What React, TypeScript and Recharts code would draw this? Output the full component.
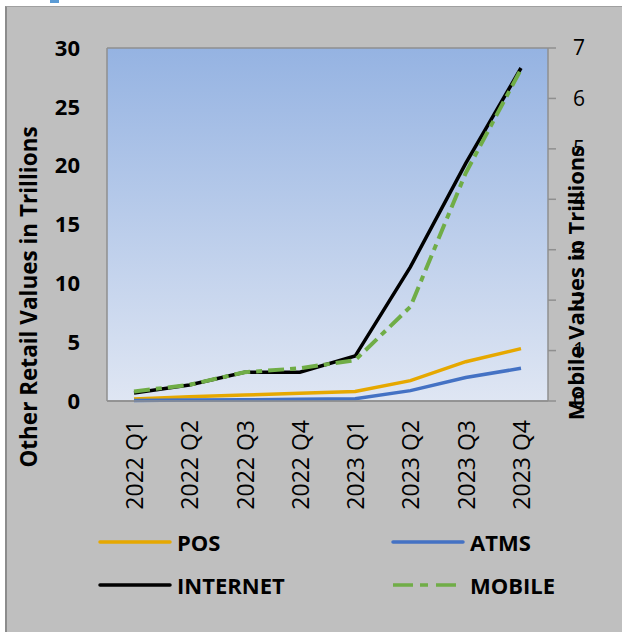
import React from 'react';
import {
  LineChart,
  Line,
  XAxis,
  YAxis,
  CartesianGrid,
  Legend,
  Label,
} from 'recharts';

const quarters = ['2022 Q1', '2022 Q2', '2022 Q3', '2022 Q4', '2023 Q1', '2023 Q2', '2023 Q3', '2023 Q4'];
const pos = [0.17, 0.37, 0.5, 0.65, 0.8, 1.73, 3.34, 4.45];
const atms = [0.05, 0.08, 0.1, 0.15, 0.2, 0.88, 2.0, 2.78];
const internet = [0.68, 1.36, 2.44, 2.44, 3.82, 11.4, 20.2, 28.3];
const mobile = [0.19, 0.32, 0.57, 0.65, 0.81, 1.87, 4.52, 6.58];

const leftTicks = [0, 5, 10, 15, 20, 25, 30];
const rightTicks = [0, 1, 2, 3, 4, 5, 6, 7];

const data = quarters.map((q, i) => ({
  quarter: q,
  POS: pos[i],
  ATMS: atms[i],
  INTERNET: internet[i],
  MOBILE: mobile[i],
}));

const FONT = '"Open Sans", sans-serif';
const GRID = '#8f8f8f';
const MOBILE_DASH = '16 6 6 6';

const legendItems = [
  { name: 'POS', color: '#e6a800', dash: undefined, x: 100, y: 20 },
  { name: 'ATMS', color: '#4472c4', dash: undefined, x: 393, y: 20 },
  { name: 'INTERNET', color: '#000000', dash: undefined, x: 100, y: 63 },
  { name: 'MOBILE', color: '#70ad47', dash: '20 7 8 8', x: 393, y: 63 },
];

const XTick = (props: any) => {
  const { x, y, payload } = props;
  return (
    <text
      x={x}
      y={y}
      transform={`rotate(-90, ${x}, ${y})`}
      textAnchor="end"
      dominantBaseline="central"
      fontFamily={FONT}
      fontSize={23}
      fill="#000"
    >
      {payload.value}
    </text>
  );
};

const LeftTitle = () => (
  <text
    x={28}
    y={297}
    transform="rotate(-90, 28, 297)"
    textAnchor="middle"
    dominantBaseline="central"
    fontFamily={FONT}
    fontWeight="bold"
    fontSize={22.5}
    fill="#000"
  >
    Other Retail Values in Trillions
  </text>
);

const RightTitle = () => (
  <text
    x={575}
    y={283}
    transform="rotate(-90, 575, 283)"
    textAnchor="middle"
    dominantBaseline="central"
    fontFamily={FONT}
    fontWeight="bold"
    fontSize={22}
    fill="#000"
  >
    Mobile Values in Trillions
  </text>
);

const LegendContent = () => (
  <svg width={622} height={110} style={{ display: 'block' }}>
    {legendItems.map((it) => (
      <g key={it.name}>
        <line
          x1={it.x}
          x2={it.x + 70}
          y1={it.y}
          y2={it.y}
          stroke={it.color}
          strokeWidth={3.5}
          strokeDasharray={it.dash}
          strokeLinecap={it.dash ? 'butt' : 'round'}
        />
        <text
          x={it.x + 77}
          y={it.y}
          dominantBaseline="central"
          fontFamily={FONT}
          fontWeight="bold"
          fontSize={22}
          fill="#000"
        >
          {it.name}
        </text>
      </g>
    ))}
  </svg>
);

export default function App() {
  return (
    <div style={{ position: 'absolute', left: 0, top: 0, width: 622, height: 632, background: '#fff', overflow: 'hidden' }}>
      <div style={{ position: 'absolute', left: 50, top: 0, width: 9, height: 3, background: '#5b9bd5' }} />
      <div
        style={{
          position: 'absolute',
          left: 5,
          top: 6,
          width: 640,
          height: 640,
          background: '#bfbfbf',
          borderLeft: '2px solid #8c8c8c',
          borderTop: '1px solid #a0a0a0',
        }}
      />
      <div style={{ position: 'absolute', left: 0, top: 0 }}>
        <LineChart width={622} height={632} data={data} margin={{ top: 48, right: 14, left: 47, bottom: 0 }}>
          <defs>
            <linearGradient id="plotBg" x1="0" y1="0" x2="0" y2="1">
              <stop offset="0%" stopColor="#95b3e2" />
              <stop offset="100%" stopColor="#dfe6f3" />
            </linearGradient>
          </defs>
          <CartesianGrid vertical={false} stroke={GRID} strokeWidth={1.5} fill="url(#plotBg)" fillOpacity={1} />
          <XAxis
            dataKey="quarter"
            height={121}
            interval={0}
            padding={{ left: 27, right: 27 }}
            tickLine={false}
            tickSize={0}
            tickMargin={19}
            axisLine={{ stroke: GRID, strokeWidth: 1.5 }}
            tick={<XTick />}
          />
          <YAxis
            yAxisId="left"
            domain={[0, 30]}
            ticks={leftTicks}
            width={60}
            tickLine={false}
            tickSize={0}
            tickMargin={27}
            axisLine={{ stroke: GRID, strokeWidth: 1.5 }}
            tick={{ fontFamily: FONT, fontSize: 22, fontWeight: 'bold', fill: '#000' }}
          >
            <Label content={<LeftTitle />} />
          </YAxis>
          <YAxis
            yAxisId="right"
            orientation="right"
            domain={[0, 7]}
            ticks={rightTicks}
            width={60}
            tickSize={8}
            tickMargin={17}
            tickLine={{ stroke: GRID, strokeWidth: 1.5 }}
            axisLine={{ stroke: GRID, strokeWidth: 1.5 }}
            tick={{ fontFamily: FONT, fontSize: 21, fill: '#000', textAnchor: 'start' }}
          >
            <Label content={<RightTitle />} />
          </YAxis>
          <Legend verticalAlign="bottom" height={110} wrapperStyle={{ left: 0, bottom: 0, width: 622, height: 110 }} content={<LegendContent />} />
          <Line yAxisId="left" dataKey="POS" stroke="#e6a800" strokeWidth={3.5} dot={false} isAnimationActive={false} />
          <Line yAxisId="left" dataKey="ATMS" stroke="#4472c4" strokeWidth={3.5} dot={false} isAnimationActive={false} />
          <Line yAxisId="left" dataKey="INTERNET" stroke="#000000" strokeWidth={3.5} dot={false} isAnimationActive={false} />
          <Line
            yAxisId="right"
            dataKey="MOBILE"
            stroke="#70ad47"
            strokeWidth={4}
            strokeDasharray={MOBILE_DASH}
            dot={false}
            isAnimationActive={false}
          />
        </LineChart>
      </div>
    </div>
  );
}
